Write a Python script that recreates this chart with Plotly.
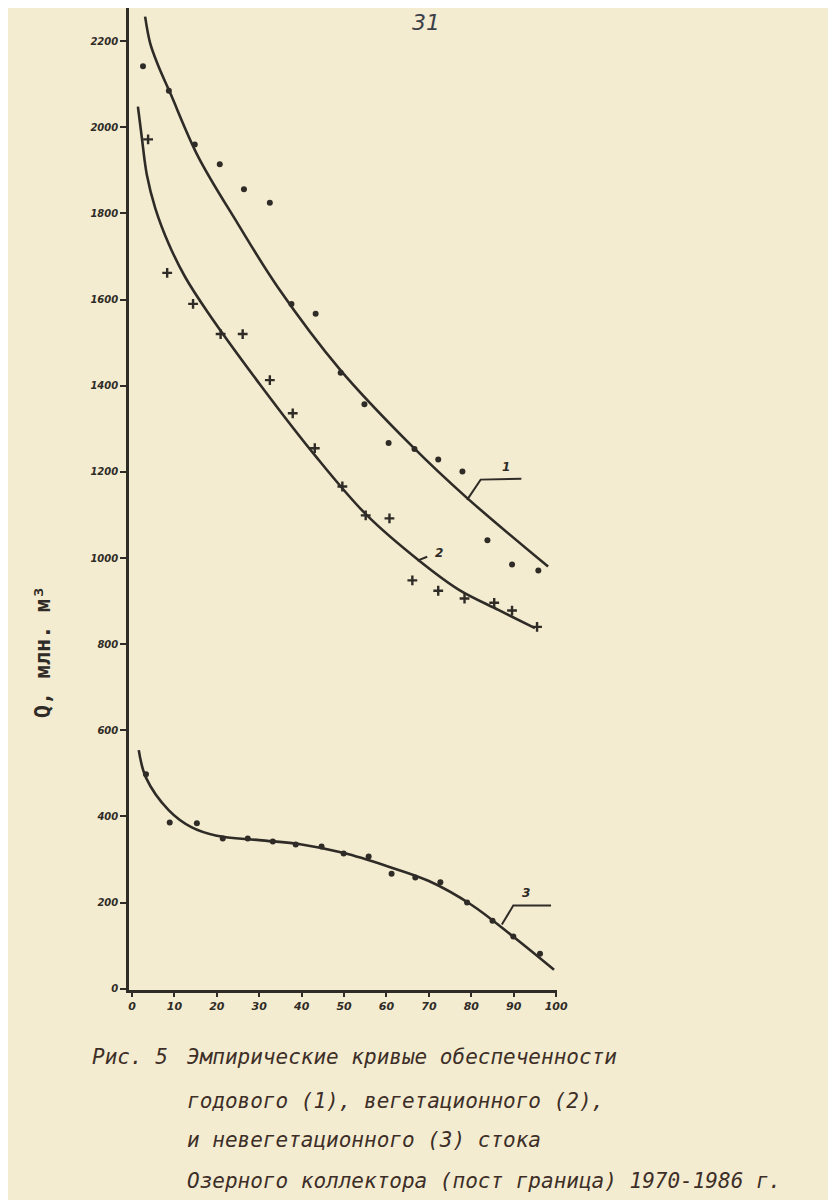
import plotly.graph_objects as go

# ---- data ----
p1 = [2.6, 8.7, 14.8, 20.7, 26.4, 32.5, 37.6, 43.3, 49.2, 54.8, 60.5, 66.6, 72.2, 77.9, 83.8, 89.6, 95.8]
q1 = [2142, 2085, 1960, 1914, 1856, 1825, 1590, 1567, 1430, 1357, 1267, 1253, 1229, 1201, 1041, 985, 971]

p2 = [3.8, 8.3, 14.4, 20.9, 26.1, 32.5, 37.9, 43.1, 49.6, 55.1, 60.7, 66.1, 72.2, 78.4, 85.4, 89.6, 95.5]
q2 = [1972, 1662, 1590, 1520, 1520, 1413, 1336, 1255, 1166, 1099, 1092, 948, 924, 906, 896, 878, 840]

p3 = [3.3, 8.9, 15.3, 21.4, 27.3, 33.2, 38.6, 44.7, 49.9, 55.8, 61.2, 66.8, 72.7, 79.0, 85.0, 89.9, 96.2]
q3 = [498, 386, 384, 349, 349, 342, 335, 330, 314, 307, 267, 258, 247, 200, 158, 121, 81]

# smoothed (hand-drawn) curves
c1x = [3.1, 4.3, 6.2, 9.0, 15.6, 24.9, 34.3, 49.1, 66.2, 78.7, 98.1]
c1y = [2257, 2195, 2143, 2080, 1932, 1777, 1630, 1437, 1258, 1142, 980]

c2x = [1.4, 2.3, 3.5, 5.5, 8.6, 12.5, 17.9, 30.4, 43.0, 55.3, 67.8, 77.1, 86.5, 95.0]
c2y = [2048, 1978, 1890, 1812, 1731, 1653, 1570, 1400, 1240, 1100, 993, 926, 879, 837]

c3x = [1.6, 3.3, 8.7, 14.0, 20.0, 30.0, 40.0, 50.0, 60.0, 70.0, 80.0, 90.0, 99.5]
c3y = [554, 490, 414, 375, 355, 345, 335, 315, 285, 250, 195, 120, 44]

xticks = [0, 10, 20, 30, 40, 50, 60, 70, 80, 90, 100]
yticks = [0, 200, 400, 600, 800, 1000, 1200, 1400, 1600, 1800, 2000, 2200]

curve_labels = ["1", "2", "3"]

caption_lines = [
    "Рис. 5",
    "Эмпирические кривые обеспеченности",
    "годового (1), вегетационного (2),",
    "и невегетационного (3) стока",
    "Озерного коллектора (пост граница) 1970-1986 г.",
]

# ---- styling ----
INK = "#2f2b27"
PAPER = "#f4ecd0"

fig = go.Figure()

for cx, cy in [(c1x, c1y), (c2x, c2y), (c3x, c3y)]:
    fig.add_trace(go.Scatter(x=cx, y=cy, mode="lines",
                             line=dict(color=INK, width=2.6, shape="spline", smoothing=1.0),
                             hoverinfo="skip", showlegend=False))

fig.add_trace(go.Scatter(x=p1, y=q1, mode="markers",
                         marker=dict(symbol="circle", size=6, color=INK), showlegend=False))
fig.add_trace(go.Scatter(x=p2, y=q2, mode="markers",
                         marker=dict(symbol="cross-thin", size=7, color=INK,
                                     line=dict(color=INK, width=2.4)), showlegend=False))
fig.add_trace(go.Scatter(x=p3, y=q3, mode="markers",
                         marker=dict(symbol="circle", size=6, color=INK), showlegend=False))

# leader lines for curve labels
leaders = [
    ([79.0, 82.2, 91.8], [1135, 1182, 1184], (88.1, 1212)),
    ([67.3, 69.6], [994, 1003], (72.4, 1012)),
    ([87.2, 89.9, 98.8], [149, 193, 193], (92.8, 222)),
]
for (lx, ly, (tx, ty)), lab in zip(leaders, curve_labels):
    fig.add_trace(go.Scatter(x=lx, y=ly, mode="lines", line=dict(color=INK, width=2),
                             hoverinfo="skip", showlegend=False))
    fig.add_annotation(x=tx, y=ty, xref="x", yref="y", text="<i><b>%s</b></i>" % lab,
                       showarrow=False, font=dict(family="DejaVu Sans", size=12, color=INK))

# axis title
fig.add_annotation(xref="paper", yref="paper", x=-0.203, y=0.344, xanchor="center", yanchor="middle",
                   text="<b>Q, млн. м³</b>", textangle=-90, showarrow=False,
                   font=dict(family="DejaVu Sans Mono", size=22, color=INK))

# page number
fig.add_annotation(xref="paper", yref="paper", x=0.695, y=1.0, xanchor="center", yanchor="top",
                   text="<i>31</i>", showarrow=False,
                   font=dict(family="DejaVu Sans", size=22, color="#3b3f4a"))

# caption
cap_font = dict(family="DejaVu Sans Mono", size=21, color="#3d2f28")
fig.add_annotation(xref="paper", yref="paper", x=-0.091, y=-0.068, xanchor="left", yanchor="middle",
                   text="<i>" + caption_lines[0] + "</i>", showarrow=False, font=cap_font)
cap_y = [-0.068, -0.113, -0.1527, -0.194]
for line, yy in zip(caption_lines[1:], cap_y):
    fig.add_annotation(xref="paper", yref="paper", x=0.131, y=yy, xanchor="left", yanchor="middle",
                       text="<i>" + line + "</i>", showarrow=False, font=cap_font)

fig.update_layout(
    width=828, height=1192,
    margin=dict(l=121, r=279, t=0, b=210),
    paper_bgcolor=PAPER, plot_bgcolor=PAPER,
    showlegend=False,
    xaxis=dict(range=[-0.7, 100.2], tickmode="array", tickvals=xticks,
               ticktext=["<b><i>%d</i></b>" % v for v in xticks],
               showgrid=False, zeroline=False, showline=True, linecolor=INK, linewidth=2.5,
               ticks="outside", ticklen=4, tickwidth=2, tickcolor=INK,
               tickfont=dict(family="DejaVu Sans", size=11, color=INK)),
    yaxis=dict(range=[-3, 2277], tickmode="array", tickvals=yticks,
               ticktext=["<b><i>%d</i></b>" % v for v in yticks],
               showgrid=False, zeroline=False, showline=True, linecolor=INK, linewidth=2.5,
               ticks="outside", ticklen=6, tickwidth=2, tickcolor=INK,
               tickfont=dict(family="DejaVu Sans", size=10, color=INK)),
)

fig.write_html("out.html")
